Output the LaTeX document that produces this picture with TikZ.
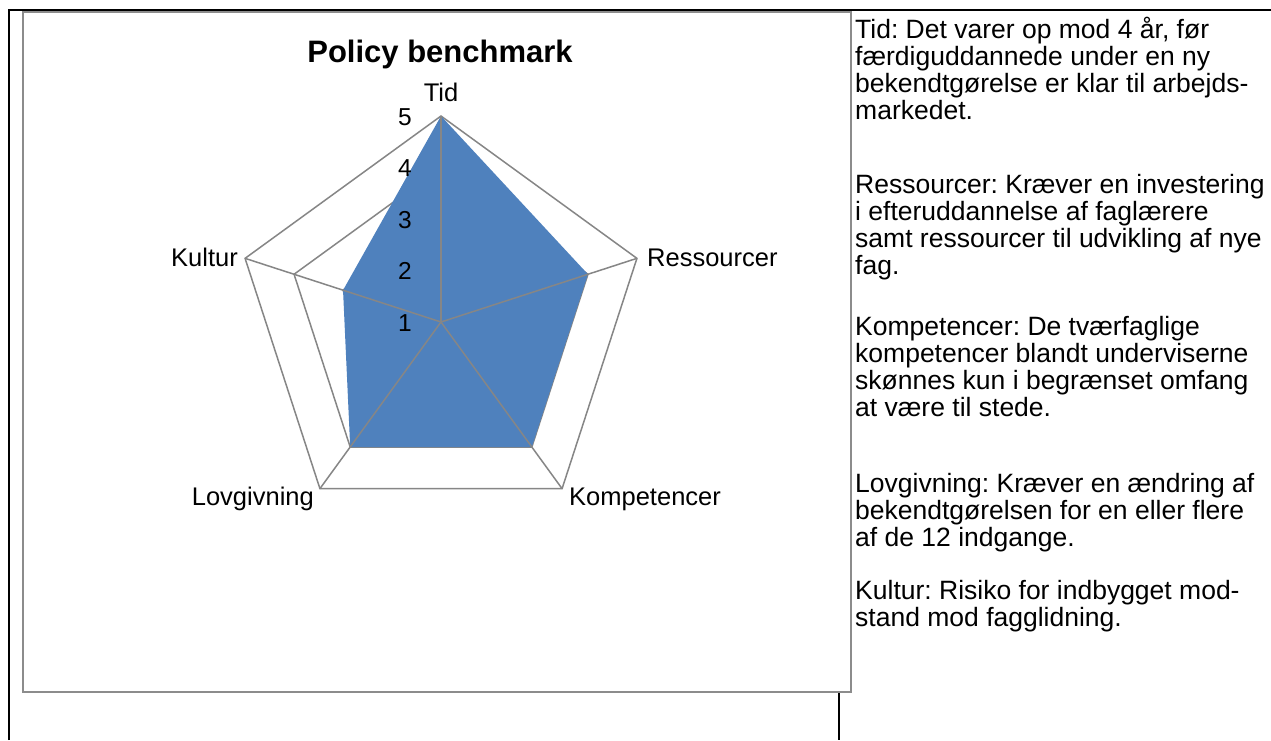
\documentclass[tikz,border=0pt]{standalone}
\usepackage{fontspec}
\setmainfont{Liberation Sans}
\definecolor{serblue}{HTML}{4F81BD}
\definecolor{gridgray}{HTML}{868686}
\definecolor{boxgray}{HTML}{8C8C8C}
\frenchspacing
\begin{document}
\begin{tikzpicture}[x=1pt,y=-1pt,
  frame/.style={black,line width=2pt},
  chartbox/.style={boxgray,line width=2pt,fill=white},
  gridline/.style={gridgray,line width=1.5pt,line join=miter},
  spoke/.style={gridgray,line width=1.5pt},
  series/.style={fill=serblue},
  axlabel/.style={font=\fontsize{25.5}{28}\selectfont,inner sep=0pt},
  ticklabel/.style={font=\fontsize{24.5}{28}\selectfont,inner sep=0pt,anchor=base},
  titlelabel/.style={font=\fontsize{31}{34}\selectfont\bfseries,inner sep=0pt,anchor=base},
  note/.style={font=\fontsize{26.5}{27}\selectfont,inner sep=0pt,anchor=base west}]
\useasboundingbox (0,0) rectangle (1271,740);
% table frame
\draw[frame] (9,740) -- (9,10) -- (1271,10);
\draw[frame] (839,10) -- (839,740);
% chart area
\draw[chartbox] (22.5,11.5) rectangle (851,691.5);
\node[titlelabel] (title) at (440,62) {Policy benchmark};
\coordinate (C) at (441,322);
\begin{scope}[shift={(C)}]
  % grid pentagons (levels 2..5)
  \foreach \v in {2,3,4,5}{
    \pgfmathsetmacro{\r}{(\v-1)*51.5}
    \draw[gridline] (270:\r) -- (342:\r) -- (54:\r) -- (126:\r) -- (198:\r) -- cycle;
  }
  \coordinate (aT) at (270:206);
  \coordinate (aR) at (342:206);
  \coordinate (aK) at (54:206);
  \coordinate (aL) at (126:206);
  \coordinate (aC) at (198:206);
  % data series
  \fill[series] (270:206) -- (342:154.5) -- (54:154.5) -- (126:154.5) -- (198:103) -- cycle;
\end{scope}
% spokes
\foreach \a in {aT,aR,aK,aL,aC} \draw[spoke] (C) -- (\a);
% tick labels
\foreach \v [count=\i] in {1,2,3,4,5}{
  \pgfmathsetmacro{\yy}{331-(\v-1)*51.5}
  \node[ticklabel] (tick\i) at (405,\yy) {\v};
}
% axis labels
\node[axlabel,anchor=base] (lTid) at (441,101) {Tid};
\node[axlabel,anchor=base west] (lRes) at (647,266) {Ressourcer};
\node[axlabel,anchor=base east] (lKul) at (238,266) {Kultur};
\node[axlabel,anchor=base west] (lKomp) at (569,505) {Kompetencer};
\node[axlabel,anchor=base east] (lLov) at (314,505) {Lovgivning};
% notes
\node[note] (n1) at (855,38) {Tid: Det varer op mod 4 år, før};
\node[note] (n2) at (855,65) {færdiguddannede under en ny};
\node[note] (n3) at (855,92) {bekendtgørelse er klar til arbejds-};
\node[note] (n4) at (855,119) {markedet.};
\node[note] (n5) at (855,193) {Ressourcer: Kræver en investering};
\node[note] (n6) at (855,220) {i efteruddannelse af faglærere};
\node[note] (n7) at (855,247) {samt ressourcer til udvikling af nye};
\node[note] (n8) at (855,274) {fag.};
\node[note] (n9) at (855,335) {Kompetencer: De tværfaglige};
\node[note] (n10) at (855,362) {kompetencer blandt underviserne};
\node[note] (n11) at (855,389) {skønnes kun i begrænset omfang};
\node[note] (n12) at (855,416) {at være til stede.};
\node[note] (n13) at (855,492) {Lovgivning: Kræver en ændring af};
\node[note] (n14) at (855,519) {bekendtgørelsen for en eller flere};
\node[note] (n15) at (855,546) {af de 12 indgange.};
\node[note] (n16) at (855,599) {Kultur: Risiko for indbygget mod-};
\node[note] (n17) at (855,626) {stand mod fagglidning.};
\end{tikzpicture}
\end{document}
